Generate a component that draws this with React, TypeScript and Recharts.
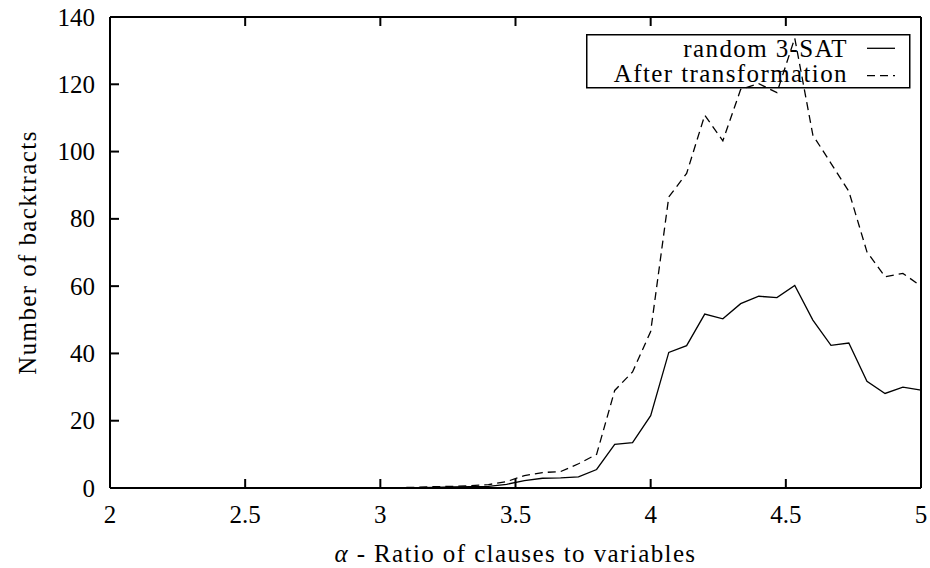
// @ts-nocheck
import React from "react";
import { LineChart, Line, XAxis, YAxis, Legend } from "recharts";

const ALPHA = [
  3.0, 3.067, 3.133, 3.2, 3.267, 3.333, 3.4, 3.467, 3.533, 3.6, 3.667, 3.733,
  3.8, 3.867, 3.933, 4.0, 4.067, 4.133, 4.2, 4.267, 4.333, 4.4, 4.467, 4.533,
  4.6, 4.667, 4.733, 4.8, 4.867, 4.933, 5.0,
];

const RANDOM_3SAT = [
  0, 0, 0.1, 0.2, 0.3, 0.4, 0.5, 1.1, 2.2, 2.9, 3.0, 3.3,
  5.5, 13.0, 13.5, 21.5, 40.3, 42.3, 51.7, 50.3, 54.8, 57.0, 56.6, 60.2,
  49.9, 42.4, 43.1, 31.7, 28.1, 30.0, 29.1,
];

const AFTER_TRANSFORM = [
  0, 0.1, 0.2, 0.4, 0.5, 0.7, 1.0, 1.9, 3.7, 4.6, 4.9, 7.2,
  10.0, 29.0, 34.5, 46.5, 86.5, 93.5, 110.8, 103.2, 118.5, 120.2, 117.5, 133.7,
  104.9, 96.5, 88.2, 70.2, 62.8, 63.8, 60.0,
];

const X_TICKS = [2, 2.5, 3, 3.5, 4, 4.5, 5];
const Y_TICKS = [0, 20, 40, 60, 80, 100, 120, 140];

const SERIES = [
  { key: "random", name: "random 3-SAT", dash: undefined },
  { key: "after", name: "After transformation", dash: "8 5" },
];

const data = ALPHA.map((a, i) => ({
  alpha: a,
  random: RANDOM_3SAT[i],
  after: AFTER_TRANSFORM[i],
}));

const FONT = '"Liberation Serif", "DejaVu Serif", serif';
const TICK_LEN = 9;
const txt = { fontFamily: FONT, fontSize: 25, fill: "#000" };
const label = { ...txt, letterSpacing: 1.4 };

const BottomTick = ({ x, y, payload }) => (
  <g>
    <line x1={x} x2={x} y1={y} y2={y - TICK_LEN} stroke="#000" strokeWidth={2} />
    <text x={x} y={y + 35} textAnchor="middle" style={txt}>
      {payload.value}
    </text>
  </g>
);

const TopTick = ({ x, y }) => (
  <line x1={x} x2={x} y1={y} y2={y + TICK_LEN} stroke="#000" strokeWidth={2} />
);

const LeftTick = ({ x, y, payload }) => (
  <g>
    <line x1={x} x2={x + TICK_LEN} y1={y} y2={y} stroke="#000" strokeWidth={2} />
    <text x={x - 15} y={y + 8.5} textAnchor="end" style={txt}>
      {payload.value}
    </text>
  </g>
);

const RightTick = ({ x, y }) => (
  <line x1={x} x2={x - TICK_LEN} y1={y} y2={y} stroke="#000" strokeWidth={2} />
);

const xLabel = (props) => {
  const vb = props.viewBox || {};
  const cx = vb.width ? vb.x + vb.width / 2 : 515.5;
  return (
    <text x={cx} y={562} textAnchor="middle" style={label}>
      <tspan style={{ fontStyle: "italic" }}>α</tspan> - Ratio of clauses to variables
    </text>
  );
};

const yLabel = () => (
  <text x={36} y={252.5} transform="rotate(-90 36 252.5)" textAnchor="middle" style={label}>
    Number of backtracts
  </text>
);

const renderLegend = () => (
  <svg width={325} height={55} style={{ display: "block", overflow: "visible" }}>
    <rect x={0.75} y={0.75} width={323} height={53} fill="none" stroke="#000" strokeWidth={1.5} />
    {SERIES.map((s, i) => (
      <g key={s.key}>
        <text x={262} y={22.7 + i * 25.3} textAnchor="end" style={label}>
          {s.name}
        </text>
        <line
          x1={281}
          x2={309}
          y1={14.3 + i * 27.4}
          y2={14.3 + i * 27.4}
          stroke="#000"
          strokeWidth={1.3}
          strokeDasharray={s.dash}
        />
      </g>
    ))}
  </svg>
);

export default function App() {
  return (
    <div
      style={{
        position: "absolute",
        left: 0,
        top: 0,
        width: 930,
        height: 568,
        background: "#fff",
        fontFamily: FONT,
      }}
    >
      <LineChart
        width={930}
        height={568}
        data={data}
        margin={{ top: 16, right: 8, bottom: 0, left: 0 }}
      >
        <XAxis
          dataKey="alpha"
          type="number"
          domain={[2, 5]}
          ticks={X_TICKS}
          height={80}
          tickSize={0}
          tickMargin={0}
          tickLine={false}
          axisLine={{ stroke: "#000", strokeWidth: 2 }}
          tick={BottomTick}
          label={xLabel}
        />
        <XAxis
          xAxisId="top"
          orientation="top"
          dataKey="alpha"
          type="number"
          domain={[2, 5]}
          ticks={X_TICKS}
          height={1}
          tickSize={0}
          tickMargin={0}
          tickLine={false}
          axisLine={{ stroke: "#000", strokeWidth: 2 }}
          tick={TopTick}
        />
        <YAxis
          type="number"
          domain={[0, 140]}
          ticks={Y_TICKS}
          width={110}
          tickSize={0}
          tickMargin={0}
          tickLine={false}
          axisLine={{ stroke: "#000", strokeWidth: 2 }}
          tick={LeftTick}
          label={yLabel}
        />
        <YAxis
          yAxisId="right"
          orientation="right"
          type="number"
          domain={[0, 140]}
          ticks={Y_TICKS}
          width={1}
          tickSize={0}
          tickMargin={0}
          tickLine={false}
          axisLine={{ stroke: "#000", strokeWidth: 2 }}
          tick={RightTick}
        />
        <Legend
          layout="vertical"
          align="center"
          verticalAlign="middle"
          content={renderLegend}
          wrapperStyle={{ left: 586, top: 34, width: 325, height: 55 }}
        />
        {SERIES.map((s) => (
          <Line
            key={s.key}
            dataKey={s.key}
            name={s.name}
            type="linear"
            stroke="#000"
            strokeWidth={1.3}
            strokeDasharray={s.dash}
            dot={false}
            activeDot={false}
            isAnimationActive={false}
          />
        ))}
      </LineChart>
    </div>
  );
}
